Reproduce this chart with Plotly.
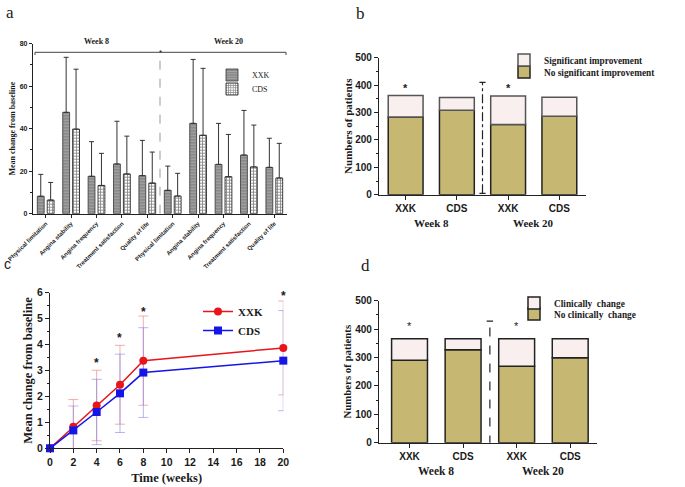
import plotly.graph_objects as go

W, H = 685, 487

# ---------------- data ----------------
# Panel a: mean change from baseline (upper error = SD cap)
a_domains = ["Physical limitation", "Angina stability", "Angina frequency",
             "Treatment satisfaction", "Quality of life"]
a_labels = a_domains + a_domains
a_xxk_mean = [8.2, 47.7, 17.6, 23.4, 17.9, 11.0, 42.5, 23.2, 27.6, 21.8]
a_xxk_top = [18.5, 73.6, 33.9, 43.5, 34.5, 22.4, 72.6, 42.5, 48.6, 35.5]
a_cds_mean = [6.4, 39.8, 13.3, 18.7, 14.4, 8.3, 36.9, 17.4, 22.0, 16.8]
a_cds_top = [14.7, 68.0, 28.4, 36.5, 29.0, 19.0, 68.4, 37.3, 41.7, 33.1]

# Panel b: numbers of patients
b_groups = ["XXK", "CDS", "XXK", "CDS"]
b_no_sig = [284, 308, 256, 286]
b_sig = [78, 47, 104, 70]

# Panel c: mean change over time
c_weeks = [0, 2, 4, 6, 8, 20]
c_xxk = [0, 0.83, 1.65, 2.45, 3.38, 3.87]
c_cds = [0, 0.69, 1.40, 2.12, 2.92, 3.38]
c_xxk_sd = [0, 1.05, 1.36, 1.52, 1.72, 1.81]
c_cds_sd = [0, 0.94, 1.26, 1.51, 1.73, 1.93]
c_star_weeks = [4, 6, 8, 20]
c_star_y = [3.3, 4.25, 5.27, 5.87]

# Panel d: numbers of patients
d_groups = ["XXK", "CDS", "XXK", "CDS"]
d_no_clin = [290, 327, 269, 299]
d_clin = [76, 39, 97, 67]

week_labels = ["Week 8", "Week 20"]

# ---------------- helpers ----------------
def px(v):
    return v / W

def py(v):
    return 1 - v / H

SERIF = "Liberation Serif"
SANS = "Liberation Sans"
OLIVE = "#c6b873"
PALE = "#f9efee"
INK = "#1a1a1a"

fig = go.Figure()

# ---------------- panel a ----------------
xi = list(range(len(a_labels)))
fig.add_trace(go.Bar(
    x=xi, y=a_xxk_mean, width=0.27, offset=-0.33, name="XXK",
    marker=dict(color="#8a8a8a", line=dict(color="#333", width=0.8),
                pattern=dict(shape="-", fgcolor="#c8c8c8", size=3, solidity=0.3)),
    error_y=dict(type="data", symmetric=False,
                 array=[t - m for t, m in zip(a_xxk_top, a_xxk_mean)],
                 arrayminus=[0] * len(a_xxk_mean), color="#333", thickness=1, width=2.5),
    xaxis="x", yaxis="y", legend="legend"))
fig.add_trace(go.Bar(
    x=xi, y=a_cds_mean, width=0.27, offset=0.06, name="CDS",
    marker=dict(color="white", line=dict(color="#111", width=0.8),
                pattern=dict(shape="+", fgcolor="#111", bgcolor="white", size=3, solidity=0.5)),
    error_y=dict(type="data", symmetric=False,
                 array=[t - m for t, m in zip(a_cds_top, a_cds_mean)],
                 arrayminus=[0] * len(a_cds_mean), color="#333", thickness=1, width=2.5),
    xaxis="x", yaxis="y", legend="legend2"))

# ---------------- panel b ----------------
bi = list(range(len(b_groups)))
fig.add_trace(go.Bar(
    x=bi, y=b_no_sig, width=0.68, name="No significant improvement",
    marker=dict(color=OLIVE, line=dict(color="#222", width=1.5)),
    xaxis="x2", yaxis="y2", legend="legend4"))
fig.add_trace(go.Bar(
    x=bi, y=b_sig, base=b_no_sig, width=0.68, name="Significant improvement",
    marker=dict(color=PALE, line=dict(color="#555", width=1.5)),
    xaxis="x2", yaxis="y2", legend="legend3"))

# ---------------- panel c ----------------
fig.add_trace(go.Scatter(
    x=c_weeks, y=c_xxk, mode="lines", line=dict(color="rgba(0,0,0,0)"),
    error_y=dict(type="data", array=c_xxk_sd, color="rgba(235,120,120,0.6)", thickness=1, width=5),
    showlegend=False, hoverinfo="skip", cliponaxis=True, xaxis="x3", yaxis="y3"))
fig.add_trace(go.Scatter(
    x=c_weeks, y=c_cds, mode="lines", line=dict(color="rgba(0,0,0,0)"),
    error_y=dict(type="data", array=c_cds_sd, color="rgba(120,120,235,0.55)", thickness=1, width=5),
    showlegend=False, hoverinfo="skip", cliponaxis=True, xaxis="x3", yaxis="y3"))
fig.add_trace(go.Scatter(
    x=c_weeks, y=c_xxk, mode="lines+markers", name="XXK",
    line=dict(color="#e8151b", width=1.5), marker=dict(symbol="circle", size=8, color="#e8151b"),
    cliponaxis=False, xaxis="x3", yaxis="y3", legend="legend5"))
fig.add_trace(go.Scatter(
    x=c_weeks, y=c_cds, mode="lines+markers", name="CDS",
    line=dict(color="#1515e8", width=1.5), marker=dict(symbol="square", size=8, color="#1515e8"),
    cliponaxis=False, xaxis="x3", yaxis="y3", legend="legend5"))

# ---------------- panel d ----------------
di = list(range(len(d_groups)))
fig.add_trace(go.Bar(
    x=di, y=d_no_clin, width=0.67, name="No clinically  change",
    marker=dict(color=OLIVE, line=dict(color="#222", width=1.5)),
    xaxis="x4", yaxis="y4", legend="legend7"))
fig.add_trace(go.Bar(
    x=di, y=d_clin, base=d_no_clin, width=0.67, name="Clinically  change",
    marker=dict(color=PALE, line=dict(color="#222", width=1.5)),
    xaxis="x4", yaxis="y4", legend="legend6"))

# ---------------- axes ----------------
ax_common = dict(showline=True, linecolor="#222", linewidth=1.2, ticks="outside",
                 tickcolor="#222", showgrid=False, zeroline=False, automargin=False)


def leg(x, y, size, bold):
    return dict(x=px(x), y=py(y), xanchor="left", yanchor="middle", bgcolor="rgba(0,0,0,0)",
                font=dict(family=SERIF, size=size, color=INK, weight="bold" if bold else "normal"),
                itemwidth=30, tracegroupgap=0)


layout = dict(
    width=W, height=H, margin=dict(l=0, r=0, t=0, b=0, autoexpand=False),
    paper_bgcolor="white", plot_bgcolor="white", barmode="overlay",
    showlegend=True,
    xaxis=dict(ax_common, domain=[px(33), px(287)], range=[-0.5, 9.5], anchor="y",
               tickvals=xi, ticktext=a_labels, tickangle=-45, ticklen=3,
               tickfont=dict(family=SANS, size=6, color=INK, weight="bold")),
    yaxis=dict(ax_common, domain=[py(213.7), py(43.7)], range=[0, 80], anchor="x",
               dtick=20, ticklen=3, tickfont=dict(family=SANS, size=7, color=INK, weight="bold"),
               minor=dict(dtick=10, ticklen=2, ticks="outside", tickcolor="#222"),
               title=dict(text="<b>Mean change from baseline</b>",
                          font=dict(family=SERIF, size=8, color=INK), standoff=2)),
    xaxis2=dict(ax_common, domain=[px(379), px(586)], range=[-0.52, 3.52], anchor="y2",
                tickvals=bi, ticktext=b_groups, ticklen=4,
                tickfont=dict(family=SANS, size=10, color=INK, weight="bold")),
    yaxis2=dict(ax_common, domain=[py(194.7), py(57.7)], range=[0, 500], anchor="x2",
                dtick=100, ticklen=4, tickfont=dict(family=SANS, size=10, color=INK, weight="bold"),
                minor=dict(dtick=50, ticklen=2, ticks="outside", tickcolor="#222"),
                title=dict(text="<b>Numbers of patients</b>",
                           font=dict(family=SERIF, size=11, color=INK), standoff=0)),
    xaxis3=dict(ax_common, domain=[px(50), px(283.3)], range=[0, 20], anchor="y3",
                dtick=2, ticklen=4, tickfont=dict(family=SANS, size=10.5, color=INK, weight="bold"),
                title=dict(text="<b>Time (weeks)</b>",
                           font=dict(family=SERIF, size=12.5, color=INK), standoff=6)),
    yaxis3=dict(ax_common, domain=[py(448.3), py(292.7)], range=[0, 6], anchor="x3",
                dtick=1, ticklen=4, tickfont=dict(family=SANS, size=10.5, color=INK, weight="bold"),
                minor=dict(dtick=0.5, ticklen=2, ticks="outside", tickcolor="#222"),
                title=dict(text="<b>Mean change from baseline</b>",
                           font=dict(family=SERIF, size=12.5, color=INK), standoff=1)),
    xaxis4=dict(ax_common, domain=[px(379), px(597)], range=[-0.57, 3.5], anchor="y4",
                tickvals=di, ticktext=d_groups, ticklen=4,
                tickfont=dict(family=SANS, size=10, color=INK, weight="bold")),
    yaxis4=dict(ax_common, domain=[py(442.7), py(300.7)], range=[0, 500], anchor="x4",
                dtick=100, ticklen=4, tickfont=dict(family=SANS, size=10, color=INK, weight="bold"),
                minor=dict(dtick=50, ticklen=2, ticks="outside", tickcolor="#222"),
                title=dict(text="<b>Numbers of patients</b>",
                           font=dict(family=SERIF, size=10.8, color=INK), standoff=1)),
    legend=leg(212, 75, 8, False),
    legend2=leg(212, 89, 8, False),
    legend3=leg(504, 60, 9.3, True),
    legend4=leg(504, 72, 9.3, True),
    legend5=dict(x=px(198), y=py(297), xanchor="left", yanchor="top", bgcolor="rgba(0,0,0,0)",
                 font=dict(family=SERIF, size=11, color=INK, weight="bold"), itemwidth=30,
                 tracegroupgap=0),
    legend6=leg(514, 303, 9.3, True),
    legend7=leg(514, 314, 9.3, True),
)
fig.update_layout(**layout)

# ---------------- shapes ----------------
shapes = []
# panel a bracket
shapes.append(dict(type="line", xref="paper", yref="paper", x0=px(35), x1=px(286),
                   y0=py(52.3), y1=py(52.3), line=dict(color="#444", width=1)))
for xx in (35, 286):
    shapes.append(dict(type="line", xref="paper", yref="paper", x0=px(xx), x1=px(xx),
                       y0=py(52.3), y1=py(55), line=dict(color="#444", width=1)))
shapes.append(dict(type="line", xref="x", yref="y", x0=4.5, x1=4.5, y0=0, y1=76.5,
                   line=dict(color="#999", width=1, dash="dash")))
# panel b separator
shapes.append(dict(type="line", xref="x2", yref="y2", x0=1.5, x1=1.5, y0=5, y1=410,
                   line=dict(color="#222", width=1.2, dash="dashdot")))
for yy in (5, 410):
    shapes.append(dict(type="line", xref="x2", yref="y2", x0=1.44, x1=1.56, y0=yy, y1=yy,
                       line=dict(color="#222", width=1.2)))
# panel d separator
shapes.append(dict(type="line", xref="x4", yref="y4", x0=1.5, x1=1.5, y0=-6, y1=428,
                   line=dict(color="#222", width=1.2, dash="dash")))
for yy in (-6, 428):
    shapes.append(dict(type="line", xref="x4", yref="y4", x0=1.44, x1=1.56, y0=yy, y1=yy,
                       line=dict(color="#222", width=1.2)))
fig.update_layout(shapes=shapes)

# ---------------- annotations ----------------
ann = []
def label(text, x, y, size, family=SERIF):
    ann.append(dict(text=text, x=px(x), y=py(y), xref="paper", yref="paper", showarrow=False,
                    xanchor="center", yanchor="middle",
                    font=dict(family=family, size=size, color=INK)))

label("a", 10, 12, 17)
label("b", 361, 13, 17)
label("c", 7, 264, 14, SANS)
label("d", 365, 265, 17)

# panel a week labels and star
for txt, xv in zip(week_labels, [2.0, 7.2]):
    ann.append(dict(text="<b>%s</b>" % txt, x=xv, y=py(35), xref="x", yref="paper", showarrow=False,
                    font=dict(family=SERIF, size=8, color=INK)))
ann.append(dict(text="*", x=4.5, y=py(46), xref="x", yref="paper", showarrow=False,
                font=dict(family=SANS, size=8, color=INK)))

# panel b/d week labels
for txt, xv in zip(week_labels, [0.5, 2.5]):
    ann.append(dict(text="<b>%s</b>" % txt, x=xv, y=py(223), xref="x2", yref="paper", showarrow=False,
                    font=dict(family=SERIF, size=11, color=INK)))
    ann.append(dict(text="<b>%s</b>" % txt, x=xv, y=py(479), xref="x4", yref="paper", showarrow=False,
                    font=dict(family=SERIF, size=11.5, color=INK)))

# stars in b and d
for xv in (0, 2):
    ann.append(dict(text="<b>*</b>", x=xv, y=388, xref="x2", yref="y2", showarrow=False,
                    font=dict(family=SANS, size=11, color=INK)))
    ann.append(dict(text="*", x=xv, y=410, xref="x4", yref="y4", showarrow=False,
                    font=dict(family=SANS, size=11, color=INK)))

# stars in c
for xv, yv in zip(c_star_weeks, c_star_y):
    ann.append(dict(text="<b>*</b>", x=xv, y=yv, xref="x3", yref="y3", showarrow=False,
                    font=dict(family=SANS, size=12, color=INK)))

fig.update_layout(annotations=ann)

fig.write_html("out.html", config={"displayModeBar": False},
               post_script="document.body.style.margin='0';")
